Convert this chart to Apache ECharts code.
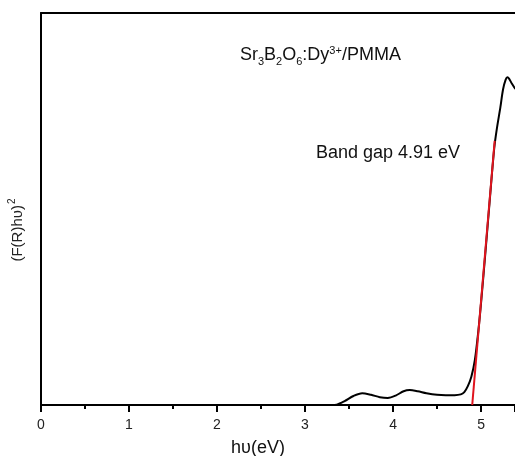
<!DOCTYPE html>
<html>
<head>
<meta charset="utf-8">
<script src="https://cdn.jsdelivr.net/npm/echarts@6/dist/echarts.min.js"></script>
<style>html,body{margin:0;padding:0;background:#fff}#c{width:515px;height:456px}</style>
</head>
<body>
<div id="c"></div>
<script>
// photon energy (eV) of measured curve
var energy = [3.30,3.36,3.45,3.55,3.65,3.75,3.85,3.94,4.03,4.12,4.19,4.28,4.38,4.50,4.60,4.70,4.77,4.81,4.85,4.89,4.93,4.97,5.00,5.05,5.10,5.15,5.18,5.22,5.25,5.28,5.30,5.32,5.35,5.39];
// (F(R)hv)^2 values (arbitrary units)
var absorb = [0,0.1,1.0,2.3,3.0,2.6,2.0,1.8,2.4,3.5,3.8,3.5,3.0,2.6,2.5,2.5,2.7,3.3,4.8,7.2,11.5,19,26,39,52.5,65.5,70.5,76,80.5,83,83.6,83.2,82,80.6];
// Tauc fit line (eV, value)
var fitX = [4.90, 5.155];
var fitY = [0, 67.4];
var xTicks = [0,1,2,3,4,5];

var curve = energy.map(function(e,i){return [e, absorb[i]];});
var fit = fitX.map(function(e,i){return [e, fitY[i]];});

var chart = echarts.init(document.getElementById('c'));
var font = 'Liberation Sans, Arial, sans-serif';
chart.setOption({
  animation:false,
  backgroundColor:'#fff',
  grid:{left:41,right:0,top:13,bottom:51,containLabel:false,outerBoundsMode:'none'},
  xAxis:[{
    type:'value',min:0,max:5.386,interval:1,
    axisLine:{show:true,lineStyle:{color:'#000',width:2}},
    axisTick:{show:true,length:7,lineStyle:{color:'#000',width:2}},
    minorTick:{show:true,splitNumber:2,length:4,lineStyle:{color:'#000',width:2}},
    splitLine:{show:false},minorSplitLine:{show:false},
    axisLabel:{margin:13,color:'#222',fontSize:14,fontFamily:font,
      formatter:function(v){return xTicks.indexOf(v)>=0?String(v):'';}},
    name:'hυ(eV)',nameLocation:'middle',nameGap:34,
    nameTextStyle:{fontSize:18,color:'#111',fontFamily:font,padding:[0,40,0,0]}
  },{
    type:'value',position:'top',min:0,max:5.386,
    axisLine:{show:true,lineStyle:{color:'#000',width:2}},
    axisTick:{show:false},axisLabel:{show:false},splitLine:{show:false}
  }],
  yAxis:{
    type:'value',min:0,max:100,
    axisLine:{show:true,lineStyle:{color:'#000',width:2}},
    axisTick:{show:false},axisLabel:{show:false},splitLine:{show:false},
    name:'{a|(F(R)hυ)}{s|2}',nameLocation:'middle',nameGap:12,nameRotate:90,
    nameTextStyle:{fontFamily:font,padding:[0,42,0,0],
      rich:{a:{fontSize:15,color:'#222',fontFamily:font},
            s:{fontSize:10,color:'#222',fontFamily:font,verticalAlign:'top',padding:[0,0,12,1]}}}
  },
  series:[{
    type:'line',data:curve,smooth:0.3,showSymbol:false,
    lineStyle:{color:'#000',width:2},z:2
  },{
    type:'line',data:fit,showSymbol:false,
    lineStyle:{color:'#e0141e',width:2},z:3
  }],
  graphic:[{
    type:'text',left:240,top:44,
    style:{
      text:'{n|Sr}{b|3}{n|B}{b|2}{n|O}{b|6}{n|:Dy}{p|3+}{n|/PMMA}',
      rich:{
        n:{fontSize:18,fontFamily:font,fill:'#111',lineHeight:24},
        b:{fontSize:11,fontFamily:font,fill:'#111',padding:[12,0,0,0],lineHeight:24},
        p:{fontSize:11,fontFamily:font,fill:'#111',padding:[0,0,10,0],lineHeight:24}
      }
    }
  },{
    type:'text',left:316,top:144,
    style:{text:'Band gap 4.91 eV',fontSize:18,fontFamily:font,fill:'#111'}
  }]
});
</script>
</body>
</html>
